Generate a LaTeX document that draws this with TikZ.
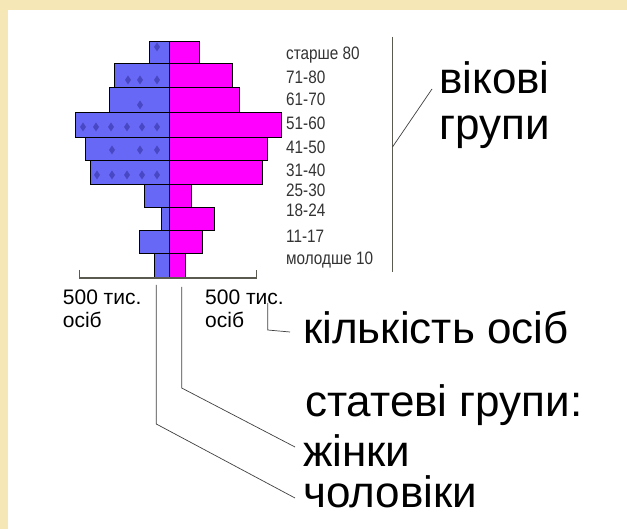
\documentclass[tikz,border=0pt]{standalone}
\usepackage{fontspec}
\setmainfont{Liberation Sans}
\newfontfamily\narrowsans[FakeStretch=0.85]{Liberation Sans}
\definecolor{frame}{RGB}{246,231,182}
\definecolor{males}{RGB}{104,104,246}
\definecolor{malesdot}{RGB}{72,72,196}
\definecolor{females}{RGB}{255,0,255}
\definecolor{axisgray}{RGB}{90,90,80}

\begin{document}
\begin{tikzpicture}[x=1pt,y=-1pt,
    bar/.style={draw=black,line width=1pt},
    lead/.style={draw=black!75,line width=0.7pt},
    agelab/.style={anchor=base west,inner sep=0pt,text=black!80,font=\narrowsans\fontsize{18}{18}\selectfont},
    numlab/.style={anchor=base west,inner sep=0pt,font=\fontsize{21}{21}\selectfont},
    biglab/.style={anchor=base west,inner sep=0pt,font=\fontsize{44}{44}\selectfont}]
    \fill[frame] (0,0) rectangle (627,529);
    \fill[white] (8,10) rectangle (627,529);
    \useasboundingbox (0,0) rectangle (627,529);

    \foreach \t/\b/\m/\f in {41.7/63.3/149/199, 63.3/87.3/114/232, 87.3/112.3/109.3/239,
        112.3/137.3/75/281.3, 137.3/160.7/85/267.3, 160.7/185/90.7/262.3,
        185/207.7/144.3/191.7, 207.7/230.7/161.7/214, 230.7/253.3/139.3/202.3,
        253.3/278.3/154/185.7} {
        \filldraw[bar,fill=males] (\m,\t) rectangle (169,\b);
        \filldraw[bar,fill=females] (169,\t) rectangle (\f,\b);
    }
    \foreach \x/\y in {83/127, 96/127, 111/127, 127/127, 142/127, 157/127,
        112/150, 140/150, 157/150, 97/175, 112/175, 127/175, 142/175, 157/175,
        128/80, 140/80, 157/80, 140/105, 157/47}
        \fill[malesdot] (\x-3,\y) -- (\x,\y-4.5) -- (\x+3,\y) -- (\x,\y+4.5) -- cycle;

    \draw[axisgray,line width=1.2pt] (79.5,270) -- (79.5,278) -- (256.5,278) -- (256.5,270);
    \draw[axisgray,line width=1pt] (392.5,37) -- (392.5,272);

    \node[agelab] (a80) at (286,59.3) {старше 80};
    \node[agelab] (a71) at (286,83.3) {71-80};
    \node[agelab] (a61) at (286,106) {61-70};
    \node[agelab] (a51) at (286,130) {51-60};
    \node[agelab] (a41) at (286,153.3) {41-50};
    \node[agelab] (a31) at (286,176.7) {31-40};
    \node[agelab] (a25) at (286,196.7) {25-30};
    \node[agelab] (a18) at (286,216.7) {18-24};
    \node[agelab] (a11) at (286,243) {11-17};
    \node[agelab] (a10) at (286,265) {молодше 10};

    \node[numlab] (leftnum) at (62.7,305) {500 тис.};
    \node[numlab] (leftunit) at (62.7,328) {осіб};
    \node[numlab] (rightnum) at (205,305) {500 тис.};
    \node[numlab] (rightunit) at (205,328) {осіб};

    \node[biglab] (vik) at (439,94) {вікові};
    \node[biglab] (grup) at (439,140) {групи};
    \node[biglab] (count) at (303,344) {кількість осіб};
    \node[biglab] (sex) at (305,417) {статеві групи:};
    \node[biglab] (women) at (303,467) {жінки};
    \node[biglab] (men) at (303,507) {чоловіки};

    \coordinate (agemid) at (392.5,147);
    \coordinate (agetip) at (432,89);
    \coordinate (cnttop) at (267.7,303);
    \coordinate (cnttip) at (290,332);
    \coordinate (wtop) at (181.7,287);
    \coordinate (wtip) at (295,447);
    \coordinate (mtop) at (156.3,285);
    \coordinate (mtip) at (295,498);

    \draw[lead] (agemid) -- (agetip);
    \draw[lead] (cnttop) |- (267.7,330) -- (cnttip);
    \draw[lead] (wtop) -- (181.7,388) -- (wtip);
    \draw[lead] (mtop) -- (156.3,424) -- (mtip);
\end{tikzpicture}
\end{document}
